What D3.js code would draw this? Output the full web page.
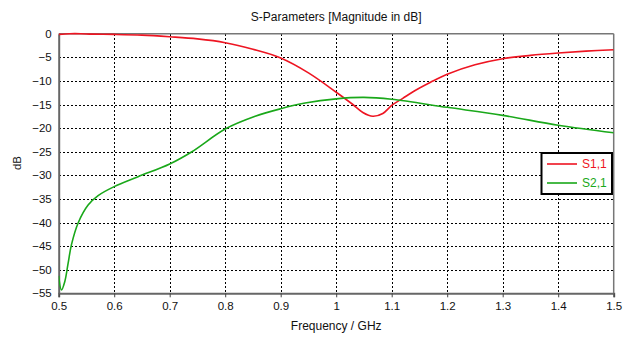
<!DOCTYPE html>
<html><head><meta charset="utf-8">
<script src="https://cdn.jsdelivr.net/npm/d3@7"></script>
<style>body{margin:0;background:#fff;} svg{display:block;} text{font-family:"Liberation Sans",Arial,sans-serif;}</style>
</head><body>
<svg id="c" width="643" height="337"></svg>
<script>
const title = "S-Parameters [Magnitude in dB]";
const xLabel = "Frequency / GHz";
const yLabel = "dB";
const xTicks = [0.5,0.6,0.7,0.8,0.9,1,1.1,1.2,1.3,1.4,1.5];
const yTicks = [0,-5,-10,-15,-20,-25,-30,-35,-40,-45,-50,-55];
const seriesNames = ["S1,1","S2,1"];
const seriesColors = ["#ee1522","#1aa81a"];
const s11F = [0.50,0.52,0.54,0.56,0.60,0.65,0.70,0.75,0.80,0.85,0.90,0.95,1.00,1.03,1.048,1.066,1.084,1.10,1.12,1.14,1.17,1.20,1.25,1.30,1.35,1.40,1.45,1.50];
const s11V = [-0.15,0.0,0.0,-0.1,-0.15,-0.3,-0.65,-1.1,-1.9,-3.3,-5.15,-8.3,-12.4,-15.0,-16.7,-17.5,-16.9,-15.2,-13.7,-12.2,-10.3,-8.6,-6.6,-5.3,-4.6,-4.1,-3.7,-3.4];
const s21F = [0.500,0.505,0.511,0.517,0.523,0.535,0.553,0.571,0.60,0.643,0.70,0.74,0.80,0.854,0.90,0.944,1.00,1.05,1.10,1.20,1.30,1.40,1.50];
const s21V = [-51.3,-54.3,-52.5,-48.6,-44.7,-40.1,-36.3,-34.3,-32.4,-30.3,-27.6,-25.0,-20.2,-17.5,-15.9,-14.7,-13.8,-13.5,-13.9,-15.6,-17.3,-19.4,-21.0];

const svg = d3.select("#c");
const L = 58.7, R = 613.7, T = 33.7, B = 293.3;
const x = d3.scaleLinear().domain([0.5,1.5]).range([L,R]);
const y = d3.scaleLinear().domain([-55,0]).range([B,T]);

svg.append("defs").append("clipPath").attr("id","clip").append("rect").attr("x",L).attr("y",T-2).attr("width",R-L).attr("height",B-T+2);

// grid
const grid = svg.append("g").attr("stroke","#000").attr("stroke-width",1).attr("stroke-dasharray","2,2").attr("shape-rendering","crispEdges");
xTicks.slice(1,-1).forEach(t => grid.append("line").attr("x1",Math.round(x(t))+0.5).attr("x2",Math.round(x(t))+0.5).attr("y1",T).attr("y2",B));
yTicks.slice(1,-1).forEach(t => grid.append("line").attr("y1",Math.round(y(t))+0.5).attr("y2",Math.round(y(t))+0.5).attr("x1",L).attr("x2",R));

// axes
const xa = svg.append("g").attr("transform",`translate(0,${B})`)
  .call(d3.axisBottom(x).tickValues(xTicks).tickFormat(d3.format("")).tickSize(4).tickPadding(5));
xa.select(".domain").attr("stroke","#666").attr("stroke-width",2);
xa.selectAll(".tick line").attr("stroke","#444");
xa.selectAll("text").attr("font-size",11.5).attr("fill","#111").style("font-family","Liberation Sans, Arial");
const ya = svg.append("g").attr("transform",`translate(${L},0)`)
  .call(d3.axisLeft(y).tickValues(yTicks).tickFormat(d3.format("")).tickSize(0).tickPadding(7));
ya.select(".domain").attr("stroke","#666").attr("stroke-width",2);
ya.selectAll("text").attr("font-size",11.5).attr("fill","#111").style("font-family","Liberation Sans, Arial");
// frame top/right
svg.append("line").attr("x1",L).attr("x2",R).attr("y1",T).attr("y2",T).attr("stroke","#777").attr("stroke-width",1.5);
svg.append("line").attr("x1",R).attr("x2",R).attr("y1",T).attr("y2",B).attr("stroke","#777").attr("stroke-width",1.5);

// curves
const line = d3.line().x(d=>x(d[0])).y(d=>y(d[1])).curve(d3.curveCatmullRom.alpha(0.5));
const data = [d3.zip(s11F,s11V), d3.zip(s21F,s21V)];
const cg = svg.append("g").attr("clip-path","url(#clip)");
data.forEach((d,i)=>{
  cg.append("path").attr("d",line(d)).attr("fill","none").attr("stroke",seriesColors[i]).attr("stroke-width",1.6);
});

// titles
svg.append("text").attr("x",(L+R)/2).attr("y",21).attr("text-anchor","middle").attr("font-size",12).attr("fill","#111").text(title);
svg.append("text").attr("x",(L+R)/2).attr("y",330).attr("text-anchor","middle").attr("font-size",12).attr("fill","#111").text(xLabel);
svg.append("text").attr("transform","translate(21,163) rotate(-90)").attr("text-anchor","middle").attr("font-size",11.5).attr("fill","#111").text(yLabel);

// legend
const lg = svg.append("g");
lg.append("rect").attr("x",541.5).attr("y",153).attr("width",70.5).attr("height",41).attr("fill","#fff").attr("stroke","#000").attr("stroke-width",2);
seriesNames.forEach((n,i)=>{
  const yy = 164 + i*19;
  lg.append("line").attr("x1",547).attr("x2",577).attr("y1",yy).attr("y2",yy).attr("stroke",seriesColors[i]).attr("stroke-width",1.6);
  lg.append("text").attr("x",582).attr("y",yy+4).attr("font-size",12).attr("fill",seriesColors[i]).text(n);
});
</script>
</body></html>
